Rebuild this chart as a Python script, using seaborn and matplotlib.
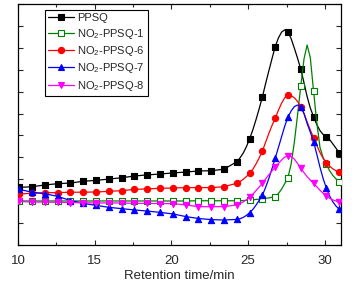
import numpy as np
import pandas as pd
import seaborn as sns
import matplotlib
matplotlib.use('Agg')
import matplotlib.pyplot as plt
from matplotlib.lines import Line2D
from matplotlib.ticker import MultipleLocator, NullFormatter

# Retention time (min): marker points, then a finer step across the peaks
temps = [10.08, 10.91, 11.75, 12.58, 13.42, 14.25, 15.08, 15.92, 16.75, 17.59,
         18.42, 19.25, 20.09, 20.92, 21.76, 22.59, 23.42,
         24.26, 24.47, 24.68, 24.88, 25.09, 25.30, 25.51, 25.72, 25.93, 26.13,
         26.34, 26.55, 26.76, 26.97, 27.18, 27.38, 27.59, 27.80, 28.01, 28.22,
         28.43, 28.64, 28.84, 29.05, 29.26, 29.47, 29.68, 29.89, 30.10, 30.30,
         30.51, 30.72, 30.93]

# Temps auxquels un symbole est dessiné
temps_symboles = [10.08, 10.91, 11.75, 12.58, 13.42, 14.25, 15.08, 15.92, 16.75,
                  17.59, 18.42, 19.25, 20.09, 20.92, 21.76, 22.59, 23.42, 24.26,
                  25.09, 25.93, 26.76, 27.59, 28.43, 29.26, 30.10, 30.93]

ppsq = [2.63, 2.66, 2.74, 2.80, 2.83, 2.91, 2.95, 3.01, 3.07, 3.15,
        3.20, 3.24, 3.29, 3.33, 3.38, 3.39, 3.46,
        3.80, 3.98, 4.20, 4.48, 4.84, 5.25, 5.72, 6.23, 6.77, 7.35,
        7.93, 8.50, 9.05, 9.45, 9.72, 9.82, 9.71, 9.42, 8.98, 8.52,
        8.02, 7.40, 6.78, 6.25, 5.86, 5.50, 5.22, 5.04, 4.93, 4.82,
        4.62, 4.42, 4.21]

no2_ppsq_1 = [2.01, 2.01, 2.01, 2.01, 2.01, 2.01, 2.01, 2.01, 2.01, 2.01,
              2.01, 2.01, 2.01, 2.01, 2.02, 2.02, 2.02,
              2.02, 2.02, 2.03, 2.04, 2.05, 2.06, 2.08, 2.09, 2.11, 2.13,
              2.15, 2.18, 2.21, 2.35, 2.55, 2.80, 3.07, 3.70, 4.70, 5.95,
              7.27, 8.50, 9.13, 8.55, 7.03, 5.60, 4.45, 3.98, 3.68, 3.40,
              3.18, 3.02, 2.89]

no2_ppsq_6 = [2.33, 2.36, 2.39, 2.39, 2.41, 2.41, 2.42, 2.45, 2.48, 2.54,
              2.56, 2.59, 2.60, 2.62, 2.62, 2.62, 2.66,
              2.82, 2.90, 3.00, 3.12, 3.27, 3.45, 3.70, 3.98, 4.29, 4.68,
              5.08, 5.45, 5.79, 6.15, 6.48, 6.72, 6.84, 6.82, 6.72, 6.55,
              6.32, 6.00, 5.62, 5.25, 4.90, 4.55, 4.22, 3.95, 3.75, 3.60,
              3.48, 3.39, 3.32]

no2_ppsq_7 = [2.54, 2.41, 2.34, 2.22, 2.03, 1.90, 1.81, 1.72, 1.66, 1.60,
              1.55, 1.49, 1.42, 1.30, 1.21, 1.16, 1.14,
              1.17, 1.20, 1.26, 1.35, 1.47, 1.62, 1.82, 2.04, 2.28, 2.62,
              3.02, 3.48, 3.96, 4.45, 4.95, 5.42, 5.83, 6.12, 6.32, 6.39,
              6.29, 6.00, 5.55, 5.15, 4.72, 4.15, 3.55, 3.02, 2.59, 2.25,
              1.98, 1.78, 1.63]

no2_ppsq_8 = [1.99, 1.96, 1.96, 1.95, 1.94, 1.93, 1.92, 1.92, 1.92, 1.90,
              1.90, 1.89, 1.89, 1.83, 1.75, 1.75, 1.75,
              1.83, 1.89, 1.97, 2.06, 2.17, 2.32, 2.48, 2.65, 2.82, 3.01,
              3.20, 3.38, 3.55, 3.72, 3.88, 4.01, 4.08, 4.04, 3.92, 3.72,
              3.50, 3.30, 3.12, 2.96, 2.82, 2.66, 2.50, 2.36, 2.24, 2.14,
              2.06, 2.01, 1.98]

noms = ["PPSQ", "NO$\\mathregular{_2}$-PPSQ-1", "NO$\\mathregular{_2}$-PPSQ-6",
        "NO$\\mathregular{_2}$-PPSQ-7", "NO$\\mathregular{_2}$-PPSQ-8"]
series = [ppsq, no2_ppsq_1, no2_ppsq_6, no2_ppsq_7, no2_ppsq_8]
couleurs = ["#000000", "#008000", "#ff0000", "#0000ff", "#ff00ff"]
symboles = ["s", "s", "o", "^", "v"]
remplissage = ["#000000", "#ffffff", "#ff0000", "#0000ff", "#ff00ff"]

sns.set_style("ticks")
plt.rcParams['font.family'] = ['Liberation Sans', 'DejaVu Sans']

fig = plt.figure(figsize=(3.56, 2.87), dpi=100)
ax = fig.add_axes([0.0506, 0.1463, 0.9073, 0.8397])

masque = np.isin(np.round(temps, 2), np.round(temps_symboles, 2))

# Tracé des courbes (ordre inverse pour que PPSQ soit au-dessus)
for i in reversed(range(len(series))):
    df = pd.DataFrame({"t": temps, "y": series[i]})
    sns.lineplot(data=df, x="t", y="y", color=couleurs[i], lw=0.9,
                 ax=ax, zorder=2 + i)
    df_sym = df[masque]
    ax.scatter(df_sym["t"], df_sym["y"], marker=symboles[i], s=20,
               facecolors=remplissage[i], edgecolors=couleurs[i],
               linewidths=0.8, zorder=2.5 + i)

ax.set_xlim(10, 31.05)
ax.set_ylim(0, 11)
ax.xaxis.set_major_locator(MultipleLocator(5))
ax.xaxis.set_minor_locator(MultipleLocator(2.5))
ax.yaxis.set_major_locator(MultipleLocator(1))
ax.yaxis.set_major_formatter(NullFormatter())
ax.tick_params(which="both", direction="in", top=True, right=True,
               labelsize=9.5, width=0.8, pad=7)
ax.tick_params(which="major", length=3.5)
ax.tick_params(which="minor", length=2)
ax.set_xlabel("Retention time/min", fontsize=9.5, labelpad=2.5)
ax.set_ylabel("")
for s in ax.spines.values():
    s.set_linewidth(0.9)
    s.set_color("black")

# Légende
poignees = [Line2D([0], [0], color=couleurs[i], lw=0.9, marker=symboles[i],
                   markersize=4.5, markerfacecolor=remplissage[i],
                   markeredgecolor=couleurs[i], markeredgewidth=0.8)
            for i in range(len(series))]
leg = ax.legend(poignees, noms, loc="upper left", bbox_to_anchor=(0.084, 0.975),
                borderaxespad=0, fontsize=8, frameon=True, fancybox=False,
                edgecolor="black", handlelength=2.3, handletextpad=0.3,
                labelspacing=0.3, borderpad=0.3, numpoints=1)
leg.get_frame().set_linewidth(0.8)
leg.get_frame().set_alpha(1)

plt.savefig("out.png", dpi=100)
plt.close()
